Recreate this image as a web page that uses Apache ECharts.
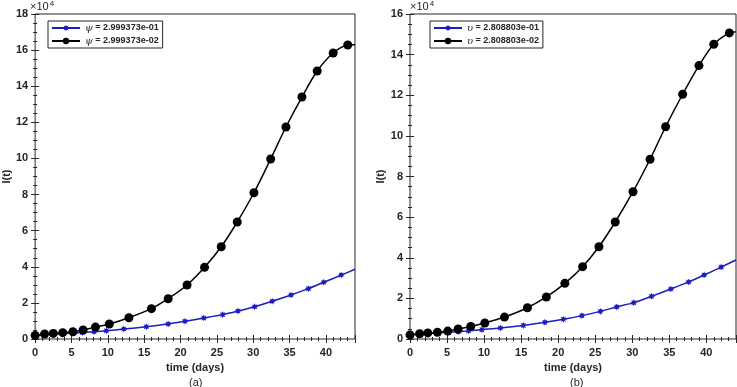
<!DOCTYPE html>
<html>
<head>
<meta charset="utf-8">
<script src="https://cdn.jsdelivr.net/npm/echarts@6/dist/echarts.min.js"></script>
<style>
  html, body { margin: 0; padding: 0; background: #fff; }
  #chart { width: 737px; height: 387px; }
</style>
</head>
<body>
<div id="chart"></div>
<script>
// values in units of 10^4
const psiHighT = [0, 1.3, 2.5, 3.8, 5.2, 6.5, 8.1, 9.8, 12.2, 15.3, 18.3, 20.6, 23.2, 25.8, 27.9, 30.2, 32.6, 35.2, 37.6, 39.7, 42.1, 44];
const psiHighI = [0.20, 0.23, 0.26, 0.30, 0.33, 0.36, 0.40, 0.46, 0.55, 0.68, 0.83, 0.98, 1.16, 1.35, 1.55, 1.79, 2.09, 2.44, 2.79, 3.14, 3.54, 3.86];
const psiLowT = [0, 1.3, 2.5, 3.8, 5.2, 6.6, 8.3, 10.2, 12.9, 16.0, 18.3, 20.9, 23.3, 25.6, 27.8, 30.1, 32.4, 34.5, 36.7, 38.8, 41.0, 43.0, 44];
const psiLowI = [0.20, 0.28, 0.31, 0.35, 0.40, 0.50, 0.66, 0.83, 1.18, 1.68, 2.23, 2.99, 3.97, 5.11, 6.48, 8.10, 9.97, 11.74, 13.40, 14.84, 15.84, 16.28, 16.30];

const upsHighT = [0, 1.3, 2.5, 3.8, 5.2, 6.5, 7.9, 9.7, 12.2, 15.3, 18.2, 20.7, 23.2, 25.7, 27.9, 30.2, 32.6, 35.2, 37.6, 39.7, 42.0, 44];
const upsHighI = [0.20, 0.23, 0.26, 0.30, 0.33, 0.36, 0.40, 0.46, 0.54, 0.67, 0.82, 0.97, 1.15, 1.36, 1.58, 1.79, 2.10, 2.46, 2.81, 3.15, 3.54, 3.89];
const upsLowT = [0, 1.3, 2.4, 3.7, 5.1, 6.5, 8.2, 10.1, 12.75, 15.85, 18.4, 20.9, 23.3, 25.5, 27.7, 30.1, 32.4, 34.5, 36.8, 39.0, 41.0, 43.1, 44];
const upsLowI = [0.20, 0.26, 0.30, 0.33, 0.39, 0.49, 0.62, 0.79, 1.08, 1.54, 2.07, 2.74, 3.56, 4.54, 5.76, 7.25, 8.85, 10.45, 12.05, 13.46, 14.51, 15.07, 15.12];

const namesA = ['ψ = 2.999373e-01', 'ψ = 2.999373e-02'];
const namesB = ['υ = 2.808803e-01', 'υ = 2.808803e-02'];
const yTicksA = [0, 18, 2];
const yTicksB = [0, 16, 2];
const xTicks = [0, 44, 5];

const BLUE = '#1c1cc0';
const AXIS = '#262626';
const FONT = 'Liberation Sans';
const STAR = 'path://M20,10L15.1,12.1L17.1,17.1L12.1,15.1L10,20L7.9,15.1L2.9,17.1L4.9,12.1L0,10L4.9,7.9L2.9,2.9L7.9,4.9L10,0L12.1,4.9L17.1,2.9L15.1,7.9Z';

// last point of each list is the curve end at the box edge, no marker there
function pts(t, v) {
  return t.map((x, i) => i === t.length - 1
    ? { value: [x, v[i]], symbol: 'none' }
    : [x, v[i]]);
}

const grids = [
  { left: 30, top: 14, width: 325, height: 325, show: true, borderColor: AXIS, borderWidth: 1 },
  { left: 410, top: 14, width: 326, height: 325, show: true, borderColor: AXIS, borderWidth: 1 }
];

function xAxis(gi, pos, labels, name) {
  return {
    type: 'value', gridIndex: gi, position: pos,
    min: xTicks[0], max: xTicks[1], interval: xTicks[2],
    axisLine: { show: false },
    axisTick: { show: true, inside: true, length: 4, lineStyle: { color: AXIS } },
    minorTick: { show: true, splitNumber: 5, length: 2, lineStyle: { color: AXIS } },
    splitLine: { show: false },
    axisLabel: { show: labels, showMaxLabel: false, color: AXIS, fontFamily: FONT, fontWeight: 'bold', fontSize: 11, margin: 8 },
    name: name, nameLocation: 'middle', nameGap: 22,
    nameTextStyle: { color: AXIS, fontFamily: FONT, fontWeight: 'bold', fontSize: 11 }
  };
}

function yAxis(gi, pos, ticks, labels, name) {
  return {
    type: 'value', gridIndex: gi, position: pos,
    min: ticks[0], max: ticks[1], interval: ticks[2],
    axisLine: { show: false },
    axisTick: { show: true, inside: true, length: 4, lineStyle: { color: AXIS } },
    minorTick: { show: true, splitNumber: 4, length: 2, lineStyle: { color: AXIS } },
    splitLine: { show: false },
    axisLabel: { show: labels, color: AXIS, fontFamily: FONT, fontWeight: 'bold', fontSize: 11, margin: 7 },
    name: name, nameLocation: 'middle', nameGap: 16, nameRotate: 90,
    nameTextStyle: { color: AXIS, fontFamily: FONT, fontWeight: 'bold', fontSize: 11 }
  };
}

function lineSeries(name, xi, t, v, color, symbol, size) {
  return {
    name: name, type: 'line', xAxisIndex: xi, yAxisIndex: xi,
    data: pts(t, v), smooth: 0.3,
    symbol: symbol, symbolSize: size, showSymbol: true,
    lineStyle: { color: color, width: 1.5 },
    itemStyle: { color: color },
    animation: false
  };
}

function legend(left, names) {
  return {
    left: left, top: 21, orient: 'vertical', data: names,
    itemWidth: 28, itemHeight: 8, itemGap: 3,
    padding: [2, 4, 2, 3],
    borderColor: AXIS, borderWidth: 1, backgroundColor: '#fff',
    formatter: n => '{g|' + n.charAt(0) + '}' + n.slice(1),
    textStyle: {
      color: AXIS, fontFamily: FONT, fontWeight: 'bold', fontSize: 9,
      rich: { g: { fontFamily: 'DejaVu Serif', fontStyle: 'italic', fontWeight: 'normal', fontSize: 10, color: AXIS } }
    }
  };
}

function expo(left) {
  return {
    type: 'text', left: left, top: 0,
    style: {
      text: '×10{s|4}', fill: AXIS, font: '11px "Liberation Sans"',
      rich: { s: { fontSize: 8, verticalAlign: 'top', padding: [0, 0, 6, 1], fill: AXIS } }
    }
  };
}

const chart = echarts.init(document.getElementById('chart'));
chart.setOption({
  backgroundColor: '#fff',
  animation: false,
  grid: grids,
  xAxis: [
    xAxis(0, 'bottom', true, 'time (days)'),
    xAxis(1, 'bottom', true, 'time (days)'),
    xAxis(0, 'top', false, ''),
    xAxis(1, 'top', false, '')
  ],
  yAxis: [
    yAxis(0, 'left', yTicksA, true, 'I(t)'),
    yAxis(1, 'left', yTicksB, true, 'I(t)'),
    yAxis(0, 'right', yTicksA, false, ''),
    yAxis(1, 'right', yTicksB, false, '')
  ],
  legend: [legend(48, namesA), legend(430, namesB)],
  title: [
    { text: '(a)', left: 184, top: 372, textStyle: { color: AXIS, fontFamily: FONT, fontWeight: 'normal', fontSize: 11 } },
    { text: '(b)', left: 565, top: 372, textStyle: { color: AXIS, fontFamily: FONT, fontWeight: 'normal', fontSize: 11 } }
  ],
  graphic: [expo(30), expo(410)],
  series: [
    lineSeries(namesA[0], 0, psiHighT, psiHighI, BLUE, STAR, 7),
    lineSeries(namesA[1], 0, psiLowT, psiLowI, '#000', 'circle', 9),
    lineSeries(namesB[0], 1, upsHighT, upsHighI, BLUE, STAR, 7),
    lineSeries(namesB[1], 1, upsLowT, upsLowI, '#000', 'circle', 9)
  ]
});
</script>
</body>
</html>
